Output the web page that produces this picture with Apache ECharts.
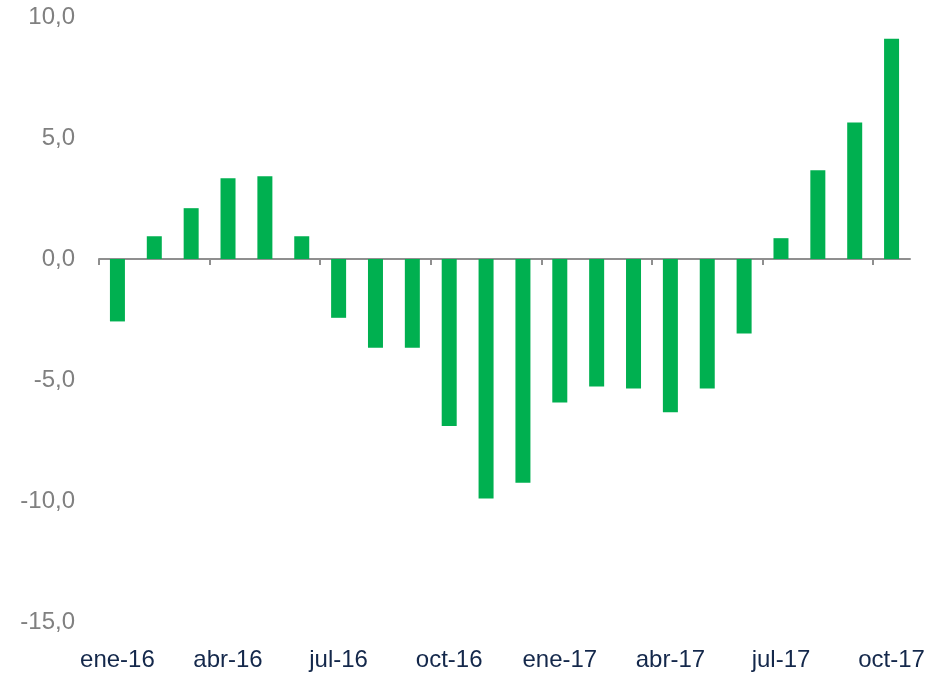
<!DOCTYPE html>
<html>
<head>
<meta charset="utf-8">
<script src="https://cdn.jsdelivr.net/npm/echarts@6/dist/echarts.min.js"></script>
<style>
  html, body { margin: 0; padding: 0; background: #ffffff; }
  #chart { width: 942px; height: 678px; }
</style>
</head>
<body>
<div id="chart"></div>
<script>
// Monthly categories, January 2016 to October 2017
const months = [
  'ene-16', 'feb-16', 'mar-16', 'abr-16', 'may-16', 'jun-16',
  'jul-16', 'ago-16', 'sep-16', 'oct-16', 'nov-16', 'dic-16',
  'ene-17', 'feb-17', 'mar-17', 'abr-17', 'may-17', 'jun-17',
  'jul-17', 'ago-17', 'sep-17', 'oct-17'
];

// Monthly variation values
const values = [
  -2.58, 0.94, 2.10, 3.34, 3.42, 0.94,
  -2.43, -3.67, -3.67, -6.90, -9.90, -9.25,
  -5.93, -5.27, -5.35, -6.33, -5.35, -3.08,
  0.86, 3.67, 5.64, 9.10
];

// Value axis range and step
const yMin = -15;
const yMax = 10;
const yStep = 5;

// Quarter boundaries where the zero line carries a tick
const quarterTicks = [0, 3, 6, 9, 12, 15, 18, 21];

const chart = echarts.init(document.getElementById('chart'), null, { renderer: 'canvas' });

const fmt = v => v.toFixed(1).replace('.', ',');
const font = 'Liberation Sans, Arial, sans-serif';

chart.setOption({
  animation: false,
  backgroundColor: '#ffffff',
  grid: { left: 99, right: 32, top: 17, bottom: 56, containLabel: false },
  xAxis: [
    {
      // category scale for the bars, labels along the bottom edge
      type: 'category',
      data: months,
      position: 'bottom',
      boundaryGap: true,
      axisLine: { show: false, onZero: false },
      axisTick: { show: false },
      axisLabel: {
        show: true,
        interval: 2,
        margin: 26,
        color: '#14284b',
        fontFamily: font,
        fontSize: 24
      },
      splitLine: { show: false }
    },
    {
      // zero line with a downward tick at every quarter boundary
      type: 'value',
      position: 'top',
      min: 0,
      max: months.length,
      axisLine: { show: true, onZero: true, lineStyle: { color: '#8f8f8f', width: 2 } },
      axisTick: {
        show: true,
        inside: true,
        customValues: quarterTicks,
        length: 6,
        lineStyle: { color: '#8f8f8f', width: 2 }
      },
      axisLabel: { show: false },
      splitLine: { show: false }
    }
  ],
  yAxis: {
    type: 'value',
    min: yMin,
    max: yMax,
    interval: yStep,
    axisLine: { show: false },
    axisTick: { show: false },
    splitLine: { show: false },
    axisLabel: {
      margin: 24,
      color: '#808080',
      fontFamily: font,
      fontSize: 24,
      formatter: fmt
    }
  },
  series: [
    {
      type: 'bar',
      xAxisIndex: 0,
      data: values,
      barWidth: 15,
      itemStyle: { color: '#00b050' }
    }
  ]
});
</script>
</body>
</html>
